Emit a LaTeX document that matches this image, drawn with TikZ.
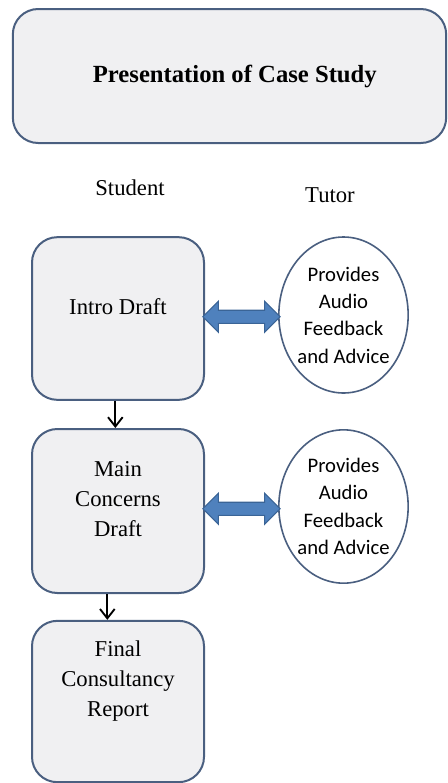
\documentclass[tikz,border=0pt]{standalone}
\usepackage{fontspec}
\setmainfont{Liberation Serif}
\newfontfamily\fbfont{Carlito}
\usetikzlibrary{shapes.geometric,shapes.arrows,arrows.meta}
\definecolor{edgeblue}{HTML}{4A5F80}
\definecolor{boxgray}{HTML}{F0F0F2}
\definecolor{arrowblue}{HTML}{4F81BD}
\definecolor{arrowedge}{HTML}{3A6496}

\begin{document}
\begin{tikzpicture}[x=0.75pt,y=-0.75pt,
    stage/.style={draw=edgeblue, line width=1.5pt, fill=boxgray, rounded corners=19pt, minimum width=129pt, inner sep=0pt},
    advice/.style={ellipse, draw=edgeblue, line width=1.2pt, fill=white, minimum width=97pt, inner sep=0pt},
    boxtext/.style={font=\fontsize{17}{22.5}\selectfont, align=center},
    fbtext/.style={font=\fbfont\fontsize{15.5}{20.5}\selectfont, align=center},
    fatarrow/.style={double arrow, draw=arrowedge, fill=arrowblue, line width=0.8pt, inner xsep=0pt, inner ysep=4.5pt, double arrow head extend=6.75pt, minimum height=58pt},
    down/.style={-{Straight Barb[length=7pt,width=11pt]}, line width=1.4pt}]
  \useasboundingbox (0,0) rectangle (447,783);
  % heading
  \node[stage, minimum width=325pt, minimum height=100.5pt,
    label={[font=\bfseries\fontsize{18.5}{22}\selectfont, xshift=4pt]center:Presentation of Case Study}] (title) at (229.5,76) {};
  \node[boxtext] (student) at (130,188) {Student};
  \node[boxtext] (tutor) at (330,195) {Tutor};
  % student column
  \node[stage, minimum height=122pt, label={[boxtext, yshift=8.6pt]center:Intro Draft}] (intro) at (118,318.5) {};
  \node[stage, minimum height=123pt, label={[boxtext, yshift=8.6pt]center:Main\\Concerns\\Draft}] (main) at (118,511) {};
  \node[stage, minimum height=121pt, label={[boxtext, yshift=15pt]center:Final\\Consultancy\\Report}] (final) at (118,701.5) {};
  % tutor column
  \node[advice, minimum height=117pt, label={[fbtext]center:Provides\\Audio\\Feedback\\and Advice}] (fb1) at (343.5,315) {};
  \node[advice, minimum height=115pt, label={[fbtext]center:Provides\\Audio\\Feedback\\and Advice}] (fb2) at (343.5,506.5) {};
  % links
  \path (intro.east) -- node[fatarrow] (link1) {} (fb1.west);
  \path (main.east) -- node[fatarrow] (link2) {} (fb2.west);
  \draw[down] ([xshift=-2pt]intro.south) -- ([xshift=-2pt]main.north);
  \draw[down] ([xshift=-8pt]main.south) -- ([xshift=-8pt]final.north);
\end{tikzpicture}
\end{document}
